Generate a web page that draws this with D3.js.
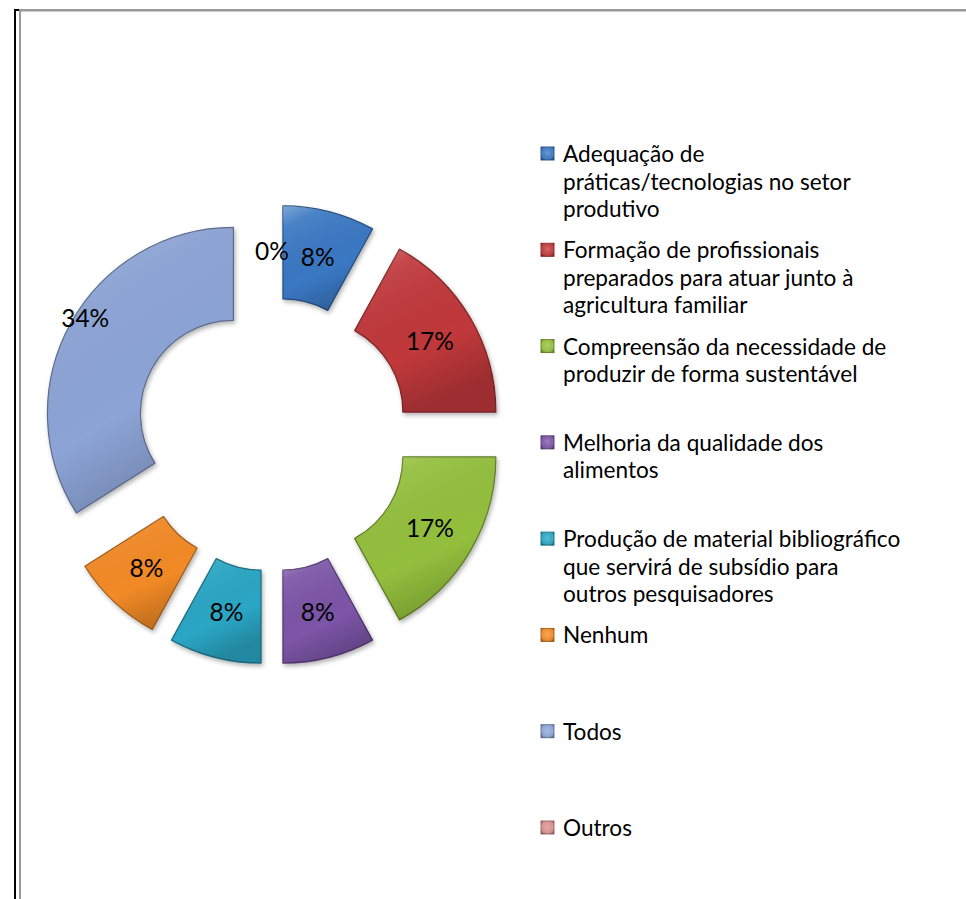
<!DOCTYPE html>
<html>
<head>
<meta charset="utf-8">
<script src="https://cdn.jsdelivr.net/npm/d3@7/dist/d3.min.js"></script>
<style>
  html, body { margin: 0; padding: 0; background: #fff; }
  svg { display: block; }
</style>
</head>
<body>
<svg id="chart" width="966" height="899"></svg>
<script>
// Categories, shares (%) and legend wrapping
const categories = [
  "Adequação de práticas/tecnologias no setor produtivo",
  "Formação de profissionais preparados para atuar junto à agricultura familiar",
  "Compreensão da necessidade de produzir de forma sustentável",
  "Melhoria da qualidade dos alimentos",
  "Produção de material bibliográfico que servirá de subsídio para outros pesquisadores",
  "Nenhum",
  "Todos",
  "Outros"
];
const values = [8, 17, 17, 8, 8, 8, 34, 0];
const legendLines = [
  ["Adequação de", "práticas/tecnologias no setor", "produtivo"],
  ["Formação de profissionais", "preparados para atuar junto à", "agricultura familiar"],
  ["Compreensão da necessidade de", "produzir de forma sustentável"],
  ["Melhoria da qualidade dos", "alimentos"],
  ["Produção de material bibliográfico", "que servirá de subsídio para", "outros pesquisadores"],
  ["Nenhum"],
  ["Todos"],
  ["Outros"]
];
const sliceColors = ["#3b78c3", "#c0393a", "#93bf3c", "#7c55a7", "#2aa6c4", "#f28a27", "#8ca4d6", "#d98f8f"];

// Layout
const W = 966, H = 899;
const cx = 272, cy = 434.5;
const rOuter = 186, rInner = 93, explode = 44;
const labelShift = { "Todos": [-26, -28] };   // nudge for the label of the large slice
const font = "Lato, 'Open Sans', sans-serif";

const svg = d3.select("#chart");
const defs = svg.append("defs");

// Soft drop shadow under the slices
const shadow = defs.append("filter").attr("id", "shadow")
  .attr("x", "-20%").attr("y", "-20%").attr("width", "140%").attr("height", "140%");
shadow.append("feDropShadow").attr("dx", 1.5).attr("dy", 2.5)
  .attr("stdDeviation", 2).attr("flood-color", "#000").attr("flood-opacity", 0.3);

// Light overlay giving the slices a bevelled look
const gloss = defs.append("linearGradient").attr("id", "gloss")
  .attr("x1", 0).attr("y1", 0).attr("x2", 0.4).attr("y2", 1);
gloss.append("stop").attr("offset", "0%").attr("stop-color", "#fff").attr("stop-opacity", 0.35);
gloss.append("stop").attr("offset", "18%").attr("stop-color", "#fff").attr("stop-opacity", 0.08);
gloss.append("stop").attr("offset", "70%").attr("stop-color", "#000").attr("stop-opacity", 0.0);
gloss.append("stop").attr("offset", "100%").attr("stop-color", "#000").attr("stop-opacity", 0.18);

const markerGloss = defs.append("radialGradient").attr("id", "markerGloss")
  .attr("cx", "50%").attr("cy", "45%").attr("r", "60%");
markerGloss.append("stop").attr("offset", "0%").attr("stop-color", "#fff").attr("stop-opacity", 0.25);
markerGloss.append("stop").attr("offset", "60%").attr("stop-color", "#fff").attr("stop-opacity", 0.05);
markerGloss.append("stop").attr("offset", "100%").attr("stop-color", "#000").attr("stop-opacity", 0.25);

// Frame lines
svg.append("line").attr("x1", 15).attr("x2", 15).attr("y1", 9).attr("y2", H)
  .attr("stroke", "#000").attr("stroke-width", 2);
svg.append("line").attr("x1", 14).attr("x2", 20).attr("y1", 10).attr("y2", 10)
  .attr("stroke", "#000").attr("stroke-width", 2);
svg.append("line").attr("x1", 20).attr("x2", 20).attr("y1", 9).attr("y2", H)
  .attr("stroke", "#999").attr("stroke-width", 2);
svg.append("line").attr("x1", 19).attr("x2", W).attr("y1", 10).attr("y2", 10)
  .attr("stroke", "#999").attr("stroke-width", 2);
svg.append("line").attr("x1", 21).attr("x2", W).attr("y1", 11.5).attr("y2", 11.5)
  .attr("stroke", "#ccc").attr("stroke-width", 1);

const color = d3.scaleOrdinal().domain(categories).range(sliceColors);

const pie = d3.pie().sort(null).value(d => d.value);
const arcs = pie(categories.map((c, i) => ({ name: c, value: values[i], short: legendLines[i].join(" ") })));
const arc = d3.arc().innerRadius(rInner).outerRadius(rOuter);

const mid = d => (d.startAngle + d.endAngle) / 2;
const offset = (d, r) => [r * Math.sin(mid(d)), -r * Math.cos(mid(d))];

const g = svg.append("g").attr("transform", `translate(${cx},${cy})`);

const slice = g.selectAll("g.slice").data(arcs).join("g")
  .attr("class", "slice")
  .attr("transform", d => `translate(${offset(d, explode)})`);

slice.filter(d => d.value > 0).append("path")
  .attr("d", arc)
  .attr("fill", d => color(d.data.name))
  .attr("stroke", d => d3.color(color(d.data.name)).darker(1.2))
  .attr("stroke-width", 1.2)
  .attr("stroke-linejoin", "round")
  .attr("filter", "url(#shadow)");

slice.filter(d => d.value > 0).append("path")
  .attr("d", arc)
  .attr("fill", "url(#gloss)")
  .attr("stroke", "none");

// Percentage labels
const midR = (rInner + rOuter) / 2 + explode;
g.selectAll("text.pct").data(arcs).join("text")
  .attr("class", "pct")
  .attr("transform", d => {
    const [x, y] = offset(d, midR);
    const [sx, sy] = labelShift[d.data.short] || [0, 0];
    return `translate(${x + sx},${y + sy})`;
  })
  .attr("text-anchor", "middle")
  .attr("dy", "0.36em")
  .attr("font-family", font)
  .attr("font-size", 24.5)
  .attr("fill", "#000")
  .text(d => `${d.data.value}%`);

// Legend
const legendY = d3.scalePoint().domain(categories).range([162, 836]);
const lineH = 27.5;
const legend = svg.append("g");
const item = legend.selectAll("g.item").data(categories).join("g")
  .attr("class", "item")
  .attr("transform", c => `translate(0,${legendY(c)})`);

item.append("rect")
  .attr("x", 541).attr("y", -15).attr("width", 13).attr("height", 13)
  .attr("fill", c => color(c))
  .attr("stroke", c => d3.color(color(c)).darker(0.8))
  .attr("stroke-width", 1);
item.append("rect")
  .attr("x", 541).attr("y", -15).attr("width", 13).attr("height", 13)
  .attr("fill", "url(#markerGloss)");

item.each(function (c, i) {
  const t = d3.select(this).append("text")
    .attr("x", 563).attr("y", 0)
    .attr("font-family", font)
    .attr("font-size", 22.6)
    .attr("fill", "#000");
  legendLines[i].forEach((line, k) => {
    t.append("tspan").attr("x", 563).attr("y", k * lineH).text(line);
  });
});
</script>
</body>
</html>
